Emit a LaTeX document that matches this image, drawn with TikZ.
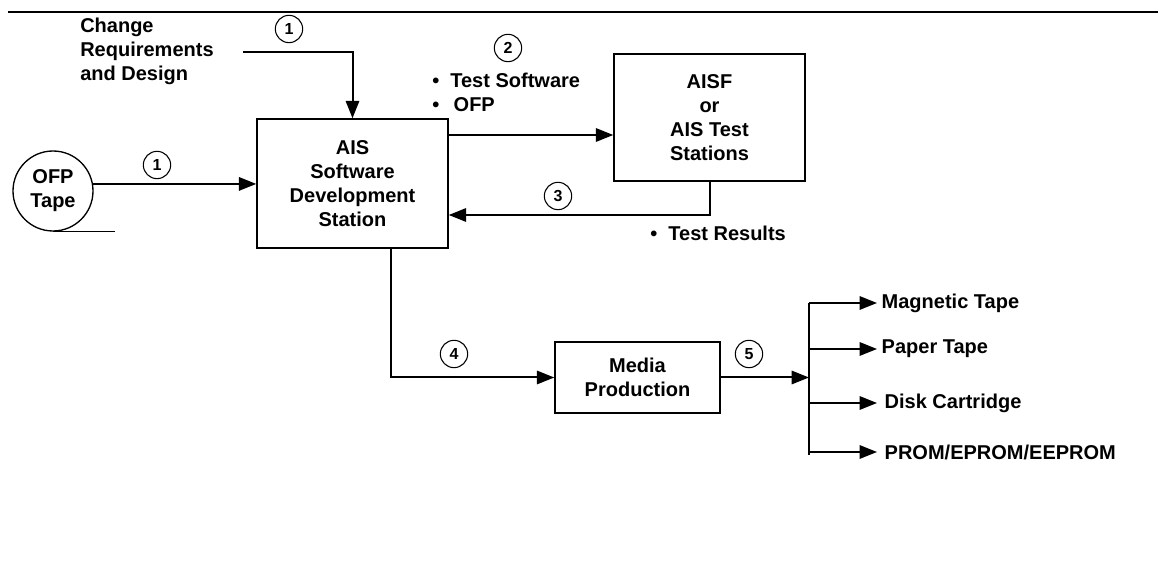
\documentclass[tikz,border=0pt]{standalone}
\usepackage{fontspec}
\setmainfont{Liberation Sans}
\usepackage{tikz}
\usetikzlibrary{arrows.meta}

\tikzset{
  >={Triangle[length=13pt,width=10pt]},
  lbl/.style={font=\fontsize{15}{18}\selectfont\bfseries, align=center},
  blk/.style={lbl, draw, line width=1.1pt, inner sep=0pt},
  num/.style={draw, circle, line width=0.8pt, inner sep=0pt, minimum size=20.5pt,
    font=\fontsize{12}{14}\selectfont\bfseries},
  flow/.style={line width=1.5pt}
}

\begin{document}
\begin{tikzpicture}[x=0.75pt, y=-0.75pt]
\useasboundingbox (0,0) rectangle (1158,580);
\draw [line width=1pt] (8,12) -- (1158,12);

% boxes
\node [blk, minimum width=143.25pt, minimum height=96.75pt] (ais) at (352.5,183.5)
  {AIS\\Software\\Development\\Station};
\node [blk, minimum width=143.25pt, minimum height=95.25pt] (aisf) at (709.5,117.5)
  {AISF\\or\\AIS Test\\Stations};
\node [blk, minimum width=123.75pt, minimum height=53.25pt] (media) at (637.5,377.5)
  {Media\\Production};
\node [lbl, draw, circle, line width=1pt, minimum size=60pt, inner sep=0pt] (ofp) at (53,191)
  {OFP\\Tape};
\draw [line width=1.2pt] (ofp.south) -- ++(62,0);

% texts
\node [lbl, align=left, anchor=west, inner sep=0pt] (chg) at (80,51)
  {Change\\Requirements\\and Design};
\node [lbl, align=left, anchor=west, inner sep=0pt] (tsw) at (432,92)
  {\textbullet\ \ Test Software\\\textbullet\ \ \,OFP};
\node [lbl, align=left, anchor=west, inner sep=0pt] (tres) at (650,233)
  {\textbullet\ \ Test Results};

% numbers
\node [num] (n1a) at (289,29) {1};
\node [num] (n1b) at (157,165) {1};
\node [num] (n2) at (508,48) {2};
\node [num] (n3) at (558,196) {3};
\node [num] (n4) at (454,354) {4};
\node [num] (n5) at (749,354) {5};

% outputs
\coordinate (bustop) at (809,303);
\coordinate (busbot) at (809,455);
\node [lbl, anchor=west] (mag) at (877,303) {Magnetic Tape};
\node [lbl, anchor=west] (pap) at (877,349) {Paper Tape};
\node [lbl, anchor=west] (disk) at (880,403) {Disk Cartridge};
\node [lbl, anchor=west] (prom) at (880,452) {PROM/EPROM/EEPROM};

% connectors
\coordinate (c1) at (243,52);
\draw [flow, ->] (c1) -| (ais.north);
\draw [flow, ->] (ofp.10) -- (ofp.10 -| ais.west);
\draw [flow, ->] (ais.east |- 0,135) -- (aisf.west |- 0,135);
\draw [flow, ->] (aisf.south) |- (ais.east |- 0,215);
\draw [flow, ->] (ais.south -| 391,0) |- (media.west);
\draw [flow, ->] (media.east) -- (media.east -| bustop);
\draw [flow] (bustop) -- (busbot);
\foreach \n in {mag,pap}
  \draw [flow, ->] (\n.west -| bustop) -- (\n.west);
\foreach \n in {disk,prom}
  \draw [flow, ->] (\n.west -| bustop) -- ([xshift=-2.25pt]\n.west);
\end{tikzpicture}
\end{document}
